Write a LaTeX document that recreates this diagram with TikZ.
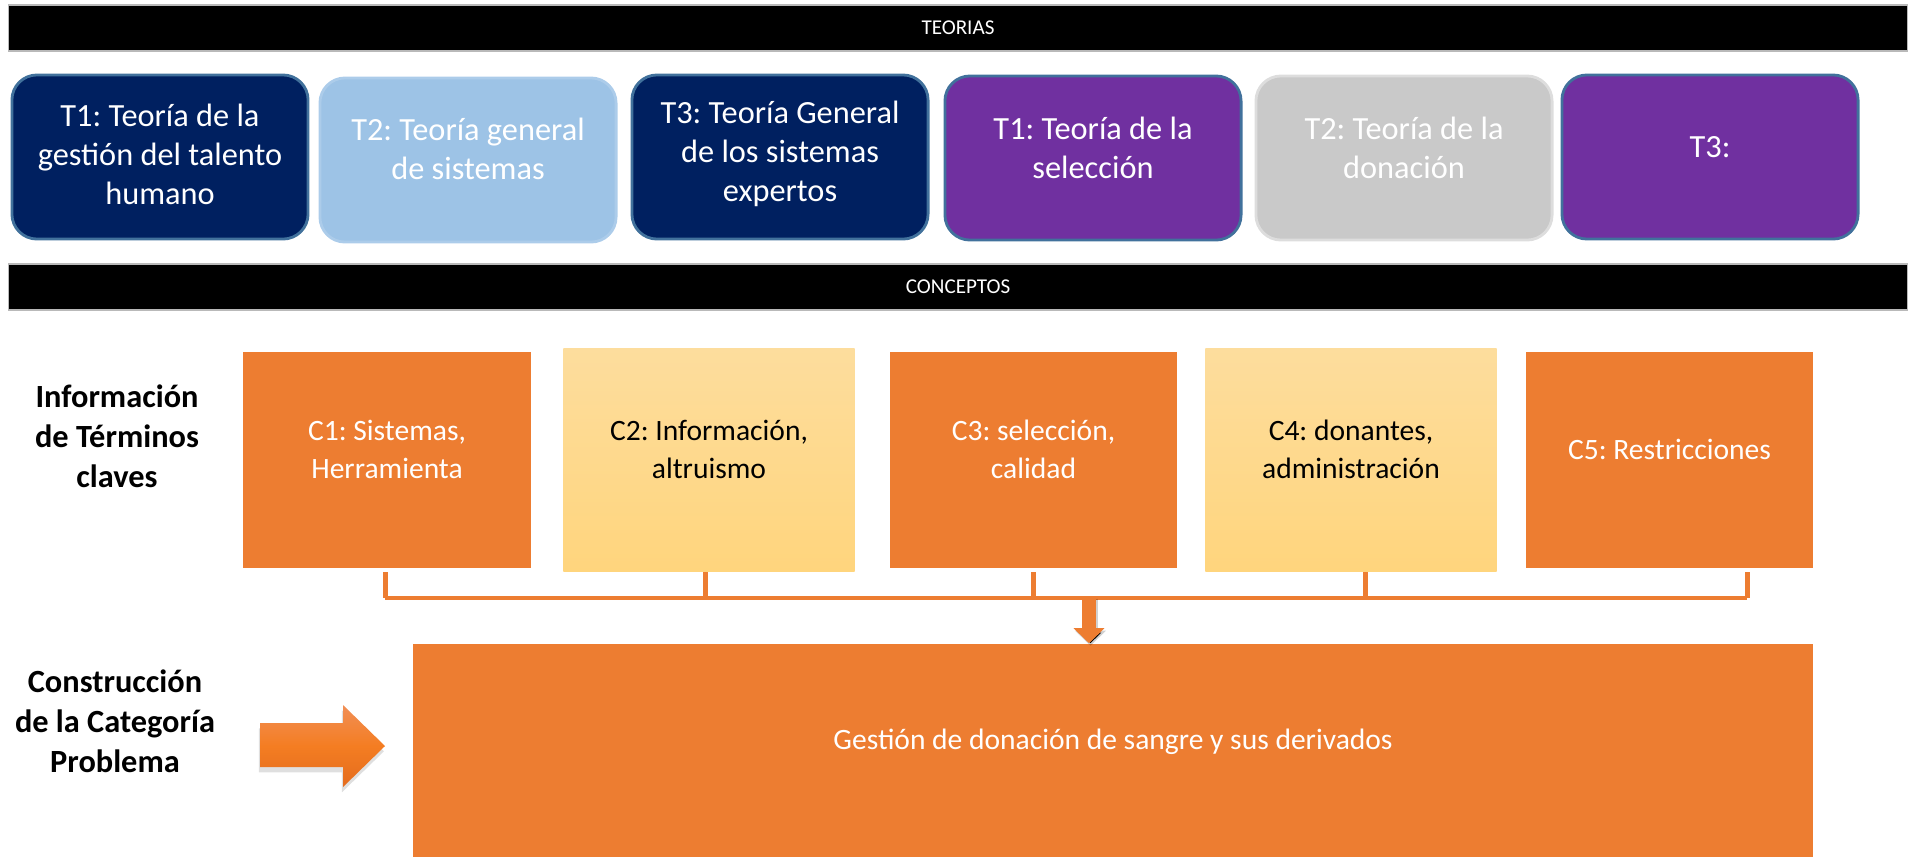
\documentclass[tikz,border=0pt]{standalone}
\usepackage{fontspec}
\setmainfont{Carlito}
\usepackage{xcolor}
\usepackage{tikz}
\usetikzlibrary{arrows.meta,calc,shadows}
\frenchspacing
\definecolor{TNavy}{RGB}{0,32,96}
\definecolor{TSteel}{RGB}{65,113,156}
\definecolor{TSky}{RGB}{157,195,230}
\definecolor{TSkyRim}{RGB}{172,204,234}
\definecolor{TPurple}{RGB}{112,48,160}
\definecolor{TGray}{RGB}{201,201,201}
\definecolor{TGrayRim}{RGB}{221,221,221}
\definecolor{COrange}{RGB}{237,125,49}
\definecolor{CSandTop}{RGB}{253,221,157}
\definecolor{CSandBot}{RGB}{255,213,125}
\definecolor{AOrangeTop}{RGB}{241,143,86}
\definecolor{AOrangeMid}{RGB}{244,125,34}
\definecolor{AOrangeBot}{RGB}{228,108,30}
\tikzset{
  headbar/.style  ={fill=black, draw=gray!55, line width=0.4pt, minimum width=18.98cm,
                    minimum height=0.46cm, inner sep=0pt, text=white, font=\fontsize{6}{7}\selectfont},
  tbox/.style     ={rounded corners=0.25cm, line width=0.8pt, minimum width=2.96cm,
                    minimum height=1.64cm, inner sep=0pt},
  ttext/.style    ={text=white, align=center, font=\fontsize{9.2}{11.1}\selectfont},
  cbox/.style     ={fill=COrange, minimum width=2.87cm, minimum height=2.16cm, inner sep=0pt},
  cboxlight/.style={top color=CSandTop, bottom color=CSandBot, minimum width=2.91cm,
                    minimum height=2.22cm, inner sep=0pt},
  ctext/.style    ={align=center, font=\fontsize{8.4}{10.8}\selectfont},
  rowlabel/.style ={align=center, font=\bfseries\fontsize{9.2}{11.4}\selectfont},
  stub/.style     ={draw=COrange, line width=0.05cm},
  busline/.style  ={draw=COrange, line width=0.04cm, line cap=square},
}

\begin{document}
\begin{tikzpicture}[
  x=0.01cm,y=-0.01cm,
  >=Stealth,
  line join=miter
]
\useasboundingbox (0,0) rectangle (1912,857);

% --- Header bars ---------------------------------------------------------
\node[headbar] (teorias)   at (958,28)  {TEORIAS};
\node[headbar] (conceptos) at (958,287) {CONCEPTOS};

% --- Theory boxes --------------------------------------------------------
\node[tbox, fill=TNavy,   draw=TSteel]   (t1) at (160,157)  {};
\node[tbox, fill=TSky,    draw=TSkyRim]  (t2) at (468,160)  {};
\node[tbox, fill=TNavy,   draw=TSteel]   (t3) at (780,157)  {};
\node[tbox, fill=TPurple, draw=TSteel]   (t4) at (1093,158) {};
\node[tbox, fill=TGray,   draw=TGrayRim] (t5) at (1404,158) {};
\node[tbox, fill=TPurple, draw=TSteel]   (t6) at (1710,157) {};

\node[ttext] (t1txt) at (160,154)  {T1: Teoría de la\\gestión del talento\\humano};
\node[ttext] (t2txt) at (468,149)  {T2: Teoría general\\de sistemas};
\node[ttext] (t3txt) at (780,154)  {T3: Teoría General\\de los sistemas\\expertos};
\node[ttext] (t4txt) at (1093,148) {T1: Teoría de la\\selección};
\node[ttext] (t5txt) at (1404,148) {T2: Teoría de la\\donación};
\node[ttext] (t6txt) at (1710,147) {T3:};

% --- Concept boxes -------------------------------------------------------
\node[cbox]      (c1) at (387,460)    {};
\node[cboxlight] (c2) at (709,460)    {};
\node[cbox]      (c3) at (1033.5,460) {};
\node[cboxlight] (c4) at (1351,460)   {};
\node[cbox]      (c5) at (1669.5,460) {};

\node[ctext, text=white] (c1txt) at (387,449)    {C1: Sistemas,\\Herramienta};
\node[ctext]             (c2txt) at (709,449)    {C2: Información,\\altruismo};
\node[ctext, text=white] (c3txt) at (1033.5,449) {C3: selección,\\calidad};
\node[ctext]             (c4txt) at (1351,449)   {C4: donantes,\\administración};
\node[ctext, text=white] (c5txt) at (1669.5,449) {C5: Restricciones};

% --- Row labels ----------------------------------------------------------
\node[rowlabel] (info)   at (117,436) {Información\\de Términos\\claves};
\node[rowlabel] (constr) at (115,721) {Construcción\\de la Categoría\\Problema};

% --- Bracket joining the concepts ----------------------------------------
\coordinate (stubtop) at (0,572);
\coordinate (busL) at (385,598);
\coordinate (busR) at (1747,598);
\foreach \c/\dx in {c1/-2,c2/-4,c3/0,c4/14,c5/78}
  \draw[stub] ($(\c.south |- stubtop)+(\dx,0)$) -- ($(\c.south |- busL)+(\dx,0)$);
\draw[busline] (busL) -- (busR);

% --- Problem box ---------------------------------------------------------
\node[cbox, minimum width=14cm, minimum height=2.13cm] (big) at (1113,750.5) {};
\node[ctext, text=white] (bigtxt) at (1113,742) {Gestión de donación de sangre y sus derivados};

% down arrow (soft shadow first)
\coordinate (droptop) at (1089,596);
\draw[line width=0.14cm, draw=black, draw opacity=0.18, -{Triangle[length=0.15cm,width=0.30cm]}]
  ($(droptop)+(1.5,2.5)$) -- ($(droptop |- big.north)+(1.5,2.5)$);
\draw[line width=0.14cm, draw=COrange, -{Triangle[length=0.15cm,width=0.30cm]}]
  (droptop) -- (droptop |- big.north);

% --- Block arrow ---------------------------------------------------------
\path[drop shadow={shadow xshift=-0.3pt, shadow yshift=-1.5pt, opacity=0.25},
      top color=AOrangeTop, bottom color=AOrangeBot, middle color=AOrangeMid]
  (260,723) -- (343,723) -- (343,705) -- (385,746) -- (343,787) -- (343,767) -- (260,767) -- cycle;

\end{tikzpicture}
\end{document}
